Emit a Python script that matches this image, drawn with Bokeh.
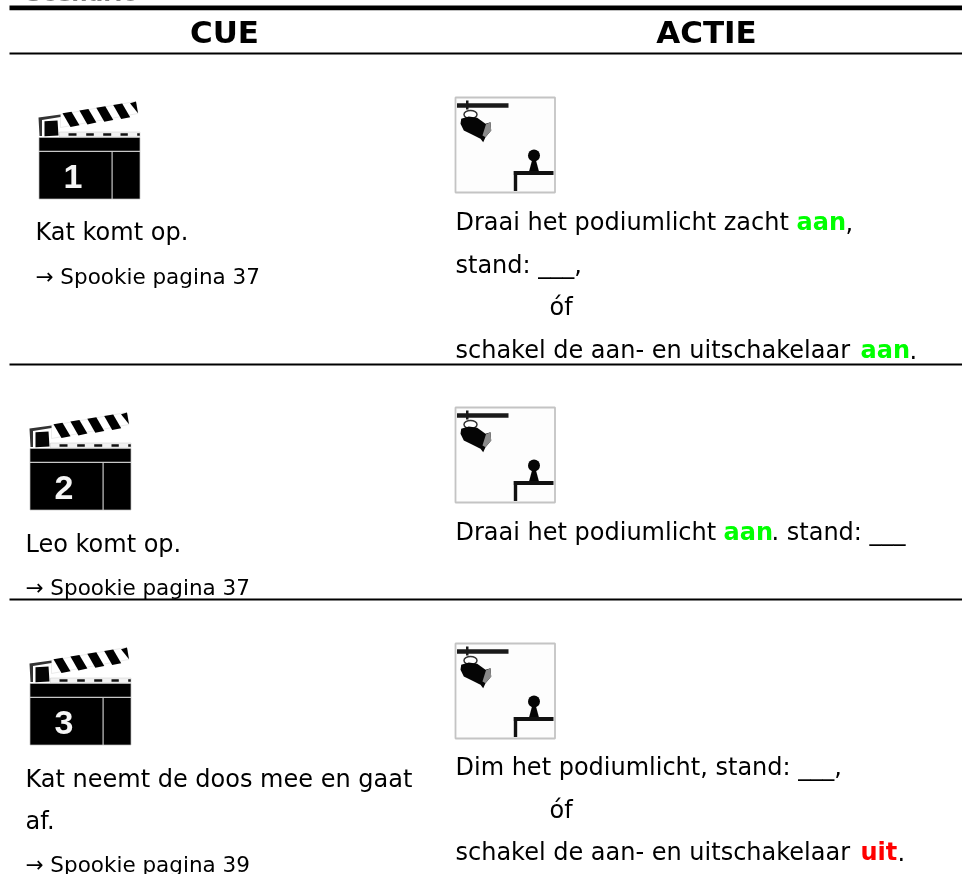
from bokeh.plotting import figure
from bokeh.embed import file_html
from bokeh.resources import INLINE
from bokeh.core.properties import value
from bokeh.models import Range1d

# ---- content ----
title_text = "Scenario"
headers = ["CUE", "ACTIE"]
cue_numbers = ["1", "2", "3"]
cue_lines = ["Kat komt op.", "Leo komt op.", "Kat neemt de doos mee en gaat", "af."]
cue_refs = ["\u2192 Spookie pagina 37", "\u2192 Spookie pagina 37", "\u2192 Spookie pagina 39"]
GREEN, RED = "#00ff00", "#ff0000"

W, H = 962, 874
FONT = value("DejaVu Sans")
SHIFT = 0.36
p = figure(width=W, height=H, x_range=Range1d(0, W), y_range=Range1d(H, 0),
           toolbar_location=None, output_backend="svg", min_border=0,
           x_axis_location=None, y_axis_location=None)
p.styles = {"position": "fixed", "left": "0", "top": "0"}
p.grid.visible = False
p.outline_line_color = None
p.background_fill_color = "white"


def rect(x0, y0, x1, y1, fill="black", line=None, lw=1):
    p.quad(left=[x0], right=[x1], top=[y0], bottom=[y1], fill_color=fill,
           line_color=line, line_width=lw)


def poly(pts, dx=0, dy=0, fill="black", line=None, lw=1):
    p.patch([a + dx for a, _ in pts], [b + dy for _, b in pts],
            fill_color=fill, line_color=line, line_width=lw)


def text(x, y, s, size=24, color="#000000", style="normal", align="left"):
    p.text(x=[x], y=[y - SHIFT * size], text=[s], text_font=FONT, text_font_size=f"{size}px",
           text_color=color, text_font_style=style, text_align=align,
           text_baseline="alphabetic")


def clapper(dx, dy, num):
    # striped arm
    poly([(60, 114), (135, 101), (137.5, 113), (60, 127)], dx, dy, "white", "#dddddd", 0.6)
    for k in range(4):
        sx, sy = 16.9 * k, -2.7 * k
        poly([(62 + sx, 112.7 + sy), (71 + sx, 111.2 + sy), (79 + sx, 124.8 + sy), (70 + sx, 126.6 + sy)], dx, dy)
    poly([(129.5, 102.7), (135.5, 101), (137.5, 112.8)], dx, dy)
    # hinge
    poly([(38, 117), (60, 114), (60, 116.5), (41.5, 119.5), (41.5, 135.5), (39, 135.5)], dx, dy, "#333333")
    poly([(44, 120.7), (57, 120), (58, 135), (44, 135.7)], dx, dy, "#050505")
    # lower strip
    rect(59 + dx, 131.5 + dy, 139.5 + dx, 136.5 + dy, "#f2f2f2", "#c8c8c8", 0.5)
    for a, b in [(68, 76), (85.7, 93.3), (102.7, 110.7), (120, 127.3), (136.7, 139.3)]:
        rect(a + dx, 132.7 + dy, b + dx, 135.3 + dy, "#111111")
    # body
    rect(38.5 + dx, 137 + dy, 139.5 + dx, 198.5 + dy, "black", "#c0c0c0", 0.7)
    rect(38.5 + dx, 150.2 + dy, 139.5 + dx, 151.6 + dy, "#c8c8c8")
    rect(111 + dx, 151.6 + dy, 112.2 + dx, 198.5 + dy, "#c8c8c8")
    p.text(x=[72.5 + dx], y=[188.5 + dy - SHIFT * 34], text=[num], text_font=value("Liberation Sans"),
           text_font_size="34px", text_font_style="bold", text_color="#f5f5f5",
           text_align="center", text_baseline="alphabetic")


def lamp(dy):
    rect(455, 97 + dy, 554.5, 192 + dy, "#fdfdfd", "#c4c4c4", 1.8)
    rect(456.5, 102.7 + dy, 508, 107.3 + dy, "#1a1a1a")
    rect(465.5, 100 + dy, 468, 109 + dy, "#1a1a1a")
    p.ellipse(x=[470], y=[114 + dy], width=[13], height=[8], fill_color="white",
              line_color="#333333", line_width=1.5)
    poly([(460.7, 118.3), (468.3, 116), (476.7, 117.3), (485, 123.3), (490, 121.7), (490.7, 130),
          (485, 136.7), (482.7, 141.7), (480, 138.3), (470, 133.3), (463.3, 130), (460, 123.3)],
         0, dy, "#050505")
    poly([(485.5, 123.8), (490, 121.7), (490.7, 130), (485, 136.7), (482, 135)], 0, dy, "#8a8a8a")
    p.circle(x=[533.5], y=[155 + dy], radius=[6], fill_color="#050505", line_color=None)
    poly([(531.5, 160), (535.5, 160), (538.5, 171), (528.5, 171)], 0, dy, "#050505")
    rect(513.3, 170.5 + dy, 553, 174.5 + dy, "#111111")
    rect(513.3, 170.5 + dy, 516.7, 190.5 + dy, "#111111")


# rules
rect(9, 5, W, 9.7)
rect(9, 52, W, 54)
rect(9, 363, W, 365)
rect(9, 598, W, 600)

text(25, 1.2, title_text, size=23, style="bold")
text(224, 43, headers[0], size=31, style="bold", align="center")
text(706, 43, headers[1], size=31, style="bold", align="center")

for (dx, dy), n in zip([(0, 0), (-9, 311), (-9, 546)], cue_numbers):
    clapper(dx, dy, n)
for dy in [0, 310, 546]:
    lamp(dy)

# left column
text(35, 240, cue_lines[0])
text(35, 284, cue_refs[0], size=21.5)
text(25, 552, cue_lines[1])
text(25, 595, cue_refs[1], size=21.5)
text(25, 787, cue_lines[2])
text(25, 829, cue_lines[3])
text(25, 872, cue_refs[2], size=21.5)

# right column
text(455, 230, "Draai het podiumlicht zacht")
text(796, 230, "aan", color=GREEN, style="bold")
text(845, 230, ",")
text(455, 273, "stand: ___,")
text(549, 315, "óf")
text(455, 358, "schakel de aan- en uitschakelaar")
text(860, 358, "aan", color=GREEN, style="bold")
text(909, 358, ".")
text(455, 540, "Draai het podiumlicht")
text(723, 540, "aan", color=GREEN, style="bold")
text(771, 540, ". stand: ___")
text(455, 775, "Dim het podiumlicht, stand: ___,")
text(549, 818, "óf")
text(455, 860, "schakel de aan- en uitschakelaar")
text(860, 860, "uit", color=RED, style="bold")
text(897, 860, ".")

open("out.html", "w").write(file_html(p, INLINE))
